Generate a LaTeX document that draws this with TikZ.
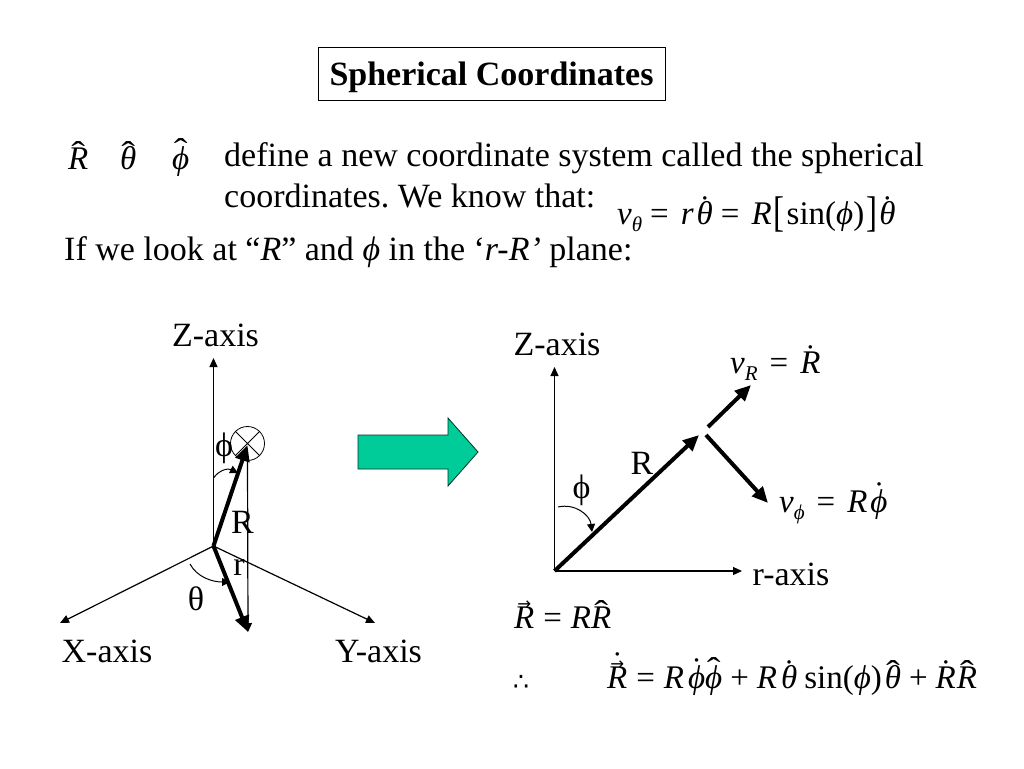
\documentclass[tikz,border=0pt]{standalone}
\usepackage{fontspec}
\usepackage{graphicx}
\setmainfont{Liberation Serif}
\newfontfamily\djv{DejaVu Sans}
\usetikzlibrary{arrows.meta}
\AtBeginDocument{\frenchspacing}
\newcommand\ontop[3]{\hbox{\setbox0\hbox{#3}\rlap{\hbox to \wd0{\hss\raisebox{#1}{#2}\hss}}\box0}}
\newcommand\Ri{\textit{R}}
\newcommand\Ph{\textit{ϕ}}
\newcommand\Th{\textit{θ}}
\newcommand\hatof[2][5pt]{\ontop{#1}{\scalebox{1.25}[1]{ˆ}}{#2}}
\newcommand\dotof[2][6pt]{\ontop{#1}{˙}{#2}}
\newcommand\vecR{\ontop{19pt}{\scalebox{.5}{\djv →}}{\Ri}}
\newcommand\sub[2][-7pt]{\raisebox{#1}{\fontsize{21}{21}\selectfont\textit{#2}}}
\newcommand\eql{\hspace{9pt}=\hspace{9pt}}
\newcommand\eqw{\hspace{8pt}=\hspace{12pt}}
\newcommand\pls{\hspace{8pt}+\hspace{8pt}}
\tikzset{
  txt/.style={anchor=base west,inner sep=0pt,font=\fontsize{34}{34}\selectfont},
  lab/.style={anchor=center,inner sep=0pt,font=\fontsize{34}{34}\selectfont},
  mth/.style={anchor=base west,inner sep=0pt,font=\fontsize{33}{33}\selectfont},
  thinax/.style={line width=1.2pt,-{Triangle[length=9pt,width=8pt]}},
  thickv/.style={line width=4pt,-{Triangle[length=16pt,width=14pt]}},
  arcv/.style={line width=1pt,-{Triangle[length=8pt,width=8pt]}},
}
\begin{document}
\begin{tikzpicture}[x=1pt,y=-1pt]
\useasboundingbox (0,0) rectangle (1024,768);
\node[draw=black,line width=0.7pt,minimum width=347pt,text height=38pt,text depth=15pt,inner sep=0pt,anchor=center,font=\fontsize{34}{34}\selectfont\bfseries] (title) at (491.5,73.5) {Spherical Coordinates};
\node[mth] (hr) at (68,169) {\hatof{\Ri}};
\node[mth] (ht) at (120,169) {\hatof{\Th}};
\node[mth] (hp) at (172,169) {\hatof[8pt]{\Ph}};
\node[txt] (l1) at (224,166) {define a new coordinate system called the spherical};
\node[txt] (l2) at (224,207) {coordinates. We know that:};
\node[mth] (vt) at (617,224) {\textit{v}\sub{θ}\eqw\textit{r}\hspace{3pt}\dotof{\Th}\eqw\Ri\hspace{2pt}\raisebox{-2pt}{\scalebox{1}[1.3]{[}}\hspace{2pt}sin(\Ph)\hspace{2pt}\raisebox{-2pt}{\scalebox{1}[1.3]{]}}\hspace{2pt}\dotof{\Th}};
\node[txt] (l3) at (64,260) {If we look at “\textit{R}” and \Ph{} in the ‘\textit{r-R’} plane:};

% left diagram
\coordinate (o1) at (213.5,546);
\coordinate (z1) at (213.5,358);
\coordinate (x1) at (60,623);
\coordinate (y1) at (375,623);
\coordinate (top1) at (247.5,445);
\coordinate (bot1) at (248,632);
\coordinate (vs1) at (247.5,458);
\coordinate (a1s) at (213.5,478);
\coordinate (a1e) at (238,473);
\coordinate (a2s) at (190,564);
\coordinate (a2e) at (230,582);
\node[draw,circle,line width=0.8pt,minimum size=34pt,inner sep=0pt] (c1) at (247.5,443.5) {};
\draw[line width=0.8pt] (c1.45) -- (c1.225) (c1.135) -- (c1.315);
\draw[thinax] (o1) -- (z1);
\draw[thinax] (o1) -- (x1);
\draw[thinax] (o1) -- (y1);
\draw[thinax] (vs1) -- (bot1);
\draw[thickv] (o1) -- (top1);
\draw[thickv] (o1) -- (bot1);
\draw[arcv] (a1s) .. controls (219,470) and (228,468) .. (a1e);
\draw[arcv] (a2s) .. controls (197,577) and (212,582) .. (a2e);
\node[lab] (lz1) at (215.5,335) {Z-axis};
\node[lab] (lx1) at (107,651) {X-axis};
\node[lab] (ly1) at (378.5,651) {Y-axis};
\node[lab] (lp1) at (224,448) {ϕ};
\node[lab] (lr1) at (242.5,522) {R};
\node[lab] (ls1) at (239,567) {r};
\node[lab] (lt1) at (196,599) {θ};

% big arrow
\definecolor{bigarrow}{HTML}{00CC99}
\draw[draw=black!75!bigarrow,line width=0.8pt,fill=bigarrow] (358,435) -- (448,435) -- (448,418) -- (478,452) -- (448,486) -- (448,469) -- (358,469) -- cycle;

% right diagram
\coordinate (o2) at (554.5,571);
\coordinate (z2) at (554.5,367);
\coordinate (r2) at (742,571);
\coordinate (tip2) at (699,435);
\coordinate (vrs) at (708,427);
\coordinate (vre) at (751,385);
\coordinate (vps) at (706,435);
\coordinate (vpe) at (768,503);
\coordinate (a3s) at (558,507);
\coordinate (a3e) at (592,532);
\draw[thinax] (o2) -- (z2);
\draw[thinax] (o2) -- (r2);
\draw[thickv] (o2) -- (tip2);
\draw[thickv] (vrs) -- (vre);
\draw[thickv] (vps) -- (vpe);
\draw[arcv] (a3s) .. controls (575,503) and (590,515) .. (a3e);
\node[lab] (lz2) at (557,344) {Z-axis};
\node[lab] (lr2) at (642,463) {R};
\node[lab] (lp2) at (581.5,490) {ϕ};
\node[lab] (lx2) at (791,574) {r-axis};
\node[mth] (eq1) at (730,373) {\textit{v}\sub{R}\hspace{3pt}\hspace{9pt}=\hspace{12pt}\dotof{\Ri}};
\node[mth] (eq2) at (779,512) {\textit{v}\sub{ϕ}\hspace{3pt}\hspace{9pt}=\hspace{12pt}\Ri\hspace{3pt}\dotof[8pt]{\Ph}};
\node[mth] (eq3) at (514,628) {\vecR\eql\Ri\hatof{\Ri}};
\node[mth,font=\fontsize{25}{25}\selectfont\djv] (eq4) at (513,690) {∴};
\node[mth] (eq5) at (607,688) {\dotof[14pt]{\vecR}\eql\Ri\hspace{4pt}\dotof[8pt]{\Ph}\hatof[8pt]{\Ph}\pls\Ri\hspace{4pt}\dotof{\Th}\hspace{7pt}sin(\Ph)\hspace{3pt}\hatof{\Th}\pls\dotof{\Ri}\hspace{1pt}\hatof{\Ri}};
\end{tikzpicture}
\end{document}
